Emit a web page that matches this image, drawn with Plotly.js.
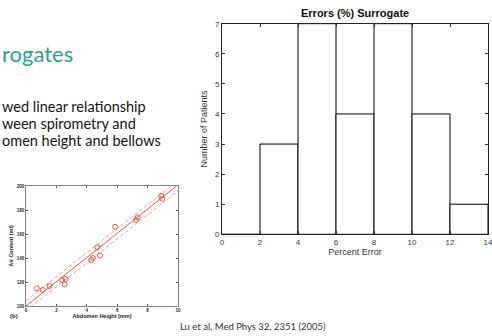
<!DOCTYPE html>
<html>
<head>
<meta charset="utf-8">
<script src="https://cdn.plot.ly/plotly-3.0.1.min.js"></script>
<style>html,body{margin:0;padding:0;background:#fff;}#chart{width:492px;height:336px;}</style>
</head>
<body>
<div id="chart"></div>
<script>
// Histogram: percent error bins
var binCenters = [1, 3, 5, 7, 9, 11, 13];
var patientCounts = [0, 3, 7, 4, 7, 4, 1];
var histTicksX = [0, 2, 4, 6, 8, 10, 12, 14];
var histTicksY = [0, 1, 2, 3, 4, 5, 6, 7];

// Inset scatter: abdomen height vs air content
var abdomenHeight = [0.71, 1.1, 1.55, 2.37, 2.6, 2.54, 4.29, 4.4, 4.69, 4.87, 5.86, 7.23, 7.35, 8.9, 8.96];
var airContent = [114.7, 113.3, 116.7, 121.7, 122.5, 118, 138.3, 140, 148.9, 142, 166, 171.7, 173.9, 191.7, 189.4];
var fitX = [0, 10];
var fitY = [100, 201];
var upperY = [104.5, 204.5];
var lowerY = [96, 196];
var insetTicksX = [0, 2, 4, 6, 8, 10];
var insetTicksY = [100, 120, 140, 160, 180, 200];

var W = 492, H = 336;
function px(x){return x / W;}
function py(y){return 1 - y / H;}

var red = '#e8553f';
var pink = '#f2a393';

var traces = [
  {type:'bar', x:binCenters, y:patientCounts, width:2, xaxis:'x', yaxis:'y',
   marker:{color:'#ffffff', line:{color:'#000000', width:1}}, hoverinfo:'none'},
  {type:'scatter', mode:'lines', x:fitX, y:upperY, xaxis:'x2', yaxis:'y2',
   line:{color:pink, width:1, dash:'4px,2px'}},
  {type:'scatter', mode:'lines', x:fitX, y:lowerY, xaxis:'x2', yaxis:'y2',
   line:{color:pink, width:1, dash:'4px,2px'}},
  {type:'scatter', mode:'lines', x:fitX, y:fitY, xaxis:'x2', yaxis:'y2',
   line:{color:red, width:1}},
  {type:'scatter', mode:'markers', x:abdomenHeight, y:airContent, xaxis:'x2', yaxis:'y2',
   marker:{symbol:'circle-open', size:5, color:red, line:{width:1, color:red}}}
];

var tickFont = {family:'Liberation Sans, Arial, sans-serif', size:8, color:'#333'};
var insetFont = {family:'Liberation Sans, Arial, sans-serif', size:4.5, color:'#222', weight:'bold'};

var layout = {
  width:W, height:H,
  margin:{l:0, r:0, t:0, b:0},
  paper_bgcolor:'#ffffff', plot_bgcolor:'#ffffff',
  showlegend:false,
  bargap:0,
  xaxis:{domain:[px(222), px(488)], anchor:'y', range:[0,14], tickvals:histTicksX,
    ticks:'inside', ticklen:3, tickcolor:'#333', showline:true, linecolor:'#222', linewidth:1,
    mirror:'ticks', showgrid:false, zeroline:false, tickfont:tickFont, fixedrange:true,
    ticklabeloverflow:'allow',
    title:{text:'Percent Error', font:{family:'Liberation Sans, Arial, sans-serif', size:9, color:'#333'}, standoff:2}},
  yaxis:{domain:[py(234.3), py(23.7)], anchor:'x', range:[0,7], tickvals:histTicksY,
    ticks:'inside', ticklen:3, tickcolor:'#333', showline:true, linecolor:'#222', linewidth:1,
    mirror:'ticks', showgrid:false, zeroline:false, tickfont:tickFont, fixedrange:true,
    title:{text:'Number of Patients', font:{family:'Liberation Sans, Arial, sans-serif', size:9, color:'#333'}, standoff:5}},
  xaxis2:{domain:[px(26), px(178)], anchor:'y2', range:[0,10], tickvals:insetTicksX,
    ticks:'inside', ticklen:2, tickcolor:'#555', showline:true, linecolor:'#666', linewidth:0.8,
    mirror:'ticks', showgrid:false, zeroline:false, tickfont:insetFont, fixedrange:true,
    title:{text:'Abdomen Height (mm)', font:{family:'Liberation Sans, Arial, sans-serif', size:5.5, color:'#222', weight:'bold'}, standoff:1}},
  yaxis2:{domain:[py(306), py(186)], anchor:'x2', range:[100,200], tickvals:insetTicksY,
    ticks:'inside', ticklen:2, tickcolor:'#555', showline:true, linecolor:'#666', linewidth:0.8,
    mirror:'ticks', showgrid:false, zeroline:false, tickfont:insetFont, fixedrange:true,
    title:{text:'Air Content (ml)', font:{family:'Liberation Sans, Arial, sans-serif', size:5.5, color:'#222', weight:'bold'}, standoff:2}},
  annotations:[
    {text:'<b>Errors (%) Surrogate</b>', xref:'paper', yref:'paper', x:px(355), y:py(13),
     xanchor:'center', yanchor:'middle', showarrow:false,
     font:{family:'Liberation Sans, Arial, sans-serif', size:11, color:'#111'}},
    {text:'rogates', xref:'paper', yref:'paper', x:0, y:py(53), xanchor:'left', yanchor:'middle',
     showarrow:false, font:{family:'Lato, sans-serif', size:22, color:'#2aa093'}},
    {text:'wed linear relationship', xref:'paper', yref:'paper', x:0, y:py(106), xanchor:'left', yanchor:'middle',
     showarrow:false, font:{family:'Lato, sans-serif', size:14.5, color:'#141414'}},
    {text:'ween spirometry and', xref:'paper', yref:'paper', x:0, y:py(123), xanchor:'left', yanchor:'middle',
     showarrow:false, font:{family:'Lato, sans-serif', size:14.5, color:'#141414'}},
    {text:'omen height and bellows', xref:'paper', yref:'paper', x:0, y:py(140), xanchor:'left', yanchor:'middle',
     showarrow:false, font:{family:'Lato, sans-serif', size:14.5, color:'#141414'}},
    {text:'<b>(b)</b>', xref:'paper', yref:'paper', x:px(8), y:py(316), xanchor:'left', yanchor:'middle',
     showarrow:false, font:{family:'Liberation Sans, Arial, sans-serif', size:6, color:'#222'}},
    {text:'Lu et al, Med Phys 32, 2351 (2005)', xref:'paper', yref:'paper', x:px(178), y:py(326), xanchor:'left', yanchor:'middle',
     showarrow:false, font:{family:'Lato, sans-serif', size:9.5, color:'#333'}}
  ]
};

Plotly.newPlot('chart', traces, layout, {staticPlot:true, displayModeBar:false});
</script>
</body>
</html>
